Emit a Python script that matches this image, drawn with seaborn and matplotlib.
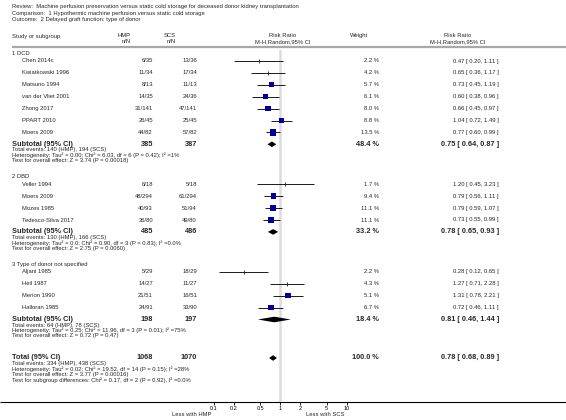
import numpy as np
import pandas as pd
import seaborn as sns
import matplotlib.pyplot as plt

title_lines = [
    "Review:  Machine perfusion preservation versus static cold storage for deceased donor kidney transplantation",
    "Comparison:  1 Hypothermic machine perfusion versus static cold storage",
    "Outcome:  2 Delayed graft function: type of donor",
]

group_labels = ["1 DCD", "2 DBD", "3 Type of donor not specified"]
study = [
    "Chen 2014c", "Kwiatkowski 1996", "Matsuno 1994", "van der Vliet 2001",
    "Zhong 2017", "PPART 2010", "Moers 2009",
    "Veller 1994", "Moers 2009", "Mozes 1985", "Tedesco-Silva 2017",
    "Aljani 1985", "Heil 1987", "Merion 1990", "Halloran 1985",
]
group_id = [0] * 7 + [1] * 4 + [2] * 4
hmp_events = [6, 11, 8, 14, 31, 26, 44, 6, 48, 40, 36, 5, 14, 21, 24]
hmp_total = [35, 34, 13, 35, 141, 45, 82, 18, 294, 93, 80, 29, 27, 51, 91]
scs_events = [13, 17, 11, 24, 47, 25, 57, 5, 61, 51, 49, 18, 11, 16, 33]
scs_total = [36, 34, 13, 36, 141, 45, 82, 18, 294, 94, 80, 29, 27, 51, 90]
weight = [2.2, 4.2, 5.7, 6.1, 8.0, 8.8, 13.5, 1.7, 9.4, 11.1, 11.1, 2.2, 4.3, 5.1, 6.7]
rr = [0.47, 0.65, 0.73, 0.60, 0.66, 1.04, 0.77, 1.20, 0.79, 0.79, 0.73, 0.28, 1.27, 1.31, 0.72]
ci_lo = [0.20, 0.36, 0.45, 0.38, 0.45, 0.72, 0.60, 0.45, 0.56, 0.59, 0.55, 0.12, 0.71, 0.78, 0.46]
ci_hi = [1.11, 1.17, 1.19, 0.96, 0.97, 1.49, 0.99, 3.23, 1.11, 1.07, 0.99, 0.65, 2.28, 2.21, 1.11]

sub_hmp = [385, 485, 198]
sub_scs = [387, 486, 197]
sub_weight = [48.4, 33.2, 18.4]
sub_rr = [0.75, 0.78, 0.81]
sub_lo = [0.64, 0.65, 0.46]
sub_hi = [0.87, 0.93, 1.44]
sub_stats = [
    ["Total events: 140 (HMP), 194 (SCS)",
     "Heterogeneity: Tau² = 0.00; Chi² = 6.03, df = 6 (P = 0.42); I² =1%",
     "Test for overall effect: Z = 3.74 (P = 0.00018)"],
    ["Total events: 130 (HMP), 166 (SCS)",
     "Heterogeneity: Tau² = 0.0; Chi² = 0.90, df = 3 (P = 0.83); I² =0.0%",
     "Test for overall effect: Z = 2.75 (P = 0.0060)"],
    ["Total events: 64 (HMP), 78 (SCS)",
     "Heterogeneity: Tau² = 0.25; Chi² = 11.96, df = 3 (P = 0.01); I² =75%",
     "Test for overall effect: Z = 0.72 (P = 0.47)"],
]

tot_hmp, tot_scs, tot_weight = 1068, 1070, 100.0
tot_rr, tot_lo, tot_hi = 0.78, 0.68, 0.89
tot_stats = [
    "Total events: 334 (HMP), 438 (SCS)",
    "Heterogeneity: Tau² = 0.02; Chi² = 19.52, df = 14 (P = 0.15); I² =28%",
    "Test for overall effect: Z = 3.77 (P = 0.00016)",
    "Test for subgroup differences: Chi² = 0.17, df = 2 (P = 0.92), I² =0.0%",
]

ticks = [0.1, 0.2, 0.5, 1, 2, 5, 10]
tick_labels = ["0.1", "0.2", "0.5", "1", "2", "5", "10"]
favours = ["Less with HMP", "Less with SCS"]

sns.set_theme(style="white")
plt.rcParams["font.family"] = ["Liberation Sans", "DejaVu Sans"]

W, H = 566, 420
fig = plt.figure(figsize=(W / 100, H / 100), dpi=100)
ax = fig.add_axes([0, 0, 1, 1])
ax.set_xlim(0, W)
ax.set_ylim(H, 0)
ax.axis("off")

# forest panel (log scale), pixel rows shared with the text axes
f_left, f_right, f_top, f_bot = 214, 346.5, 50, 402
fax = fig.add_axes([f_left / W, (H - f_bot) / H, (f_right - f_left) / W, (f_bot - f_top) / H])
fax.set_xscale("log")
fax.patch.set_alpha(0)
for s in fax.spines.values():
    s.set_visible(False)
fax.axvline(1, color="#dcdcdc", lw=1.8, zorder=0)

fs, fs_stat, fs_bold = 4.2, 4.2, 5.3
x_name, x_ind, x_hmp, x_scs, x_w, x_rr = 12, 22, 153, 197, 379, 499

# title and header
for i, t in enumerate(title_lines):
    ax.text(12, 6.5 + 6.6 * i, t, fontsize=fs, va="center")
ax.text(x_name, 36.5, "Study or subgroup", fontsize=fs, va="center")
for xr, lab in [(131, "HMP"), (176, "SCS")]:
    ax.text(xr, 35.5, lab, fontsize=fs, va="center", ha="right")
    ax.text(xr, 41.5, "n/N", fontsize=fs, va="center", ha="right")
for xc in [283, 458]:
    ax.text(xc, 35.5, "Risk Ratio", fontsize=fs, va="center", ha="center")
    ax.text(xc, 41.5, "M-H,Random,95% CI", fontsize=fs, va="center", ha="center")
ax.text(350, 35.5, "Weight", fontsize=fs, va="center")
ax.hlines(47, 12, W, color="#a8a8a8", lw=1.6)

# row positions
study_y = np.zeros(len(study))
sub_y = []
first = 61.0
for g in range(3):
    ax.text(x_name, first - 7.5, group_labels[g], fontsize=fs, va="center")
    idx = [i for i, gi in enumerate(group_id) if gi == g]
    study_y[idx] = first + 11.9 * np.arange(len(idx))
    sy = study_y[idx][-1] + 11.9
    sub_y.append(sy)
    first = sy + 40
tot_y = sub_y[-1] + 38.5

df = pd.DataFrame({"study": study, "y": study_y, "w": weight, "rr": rr,
                   "lo": ci_lo, "hi": ci_hi})

# study rows text
for i, r in df.iterrows():
    ax.text(x_ind, r.y, r.study, fontsize=fs, va="center")
    ax.text(x_hmp, r.y, f"{hmp_events[i]}/{hmp_total[i]}", fontsize=fs, va="center", ha="right")
    ax.text(x_scs, r.y, f"{scs_events[i]}/{scs_total[i]}", fontsize=fs, va="center", ha="right")
    ax.text(x_w, r.y, f"{r.w:.1f} %", fontsize=fs, va="center", ha="right")
    ax.text(x_rr, r.y, f"{r.rr:.2f} [ {r.lo:.2f}, {r.hi:.2f} ]", fontsize=fs, va="center", ha="right")

# CI lines and study markers
fax.hlines(df.y, df.lo, df.hi, color="#1a1a1a", lw=0.7, zorder=2)
big = df[df.w >= 5]
small = df[df.w < 5]
sns.scatterplot(data=big, x="rr", y="y", size="w", sizes=(14, 21), size_norm=(5, 14),
                marker="s", color="#0000a0", edgecolor="none", legend=False,
                ax=fax, zorder=3)
fax.plot(small.rr, small.y, ls="none", marker="|", ms=3.4, mew=0.6, color="#1a1a1a", zorder=3)


def diamond(est, lo, hi, yc, h=2.8):
    fax.fill([lo, est, hi, est], [yc, yc - h, yc, yc + h], color="black", lw=0, zorder=3)


def summary_row(yc, label, nh, ns, w, est, lo, hi, stats):
    ax.text(x_name, yc, label, fontsize=fs_bold, fontweight="bold", va="center")
    ax.text(x_hmp, yc, str(nh), fontsize=fs_bold, fontweight="bold", va="center", ha="right")
    ax.text(x_scs, yc, str(ns), fontsize=fs_bold, fontweight="bold", va="center", ha="right")
    ax.text(x_w, yc, f"{w:.1f} %", fontsize=fs_bold, fontweight="bold", va="center", ha="right")
    ax.text(x_rr, yc, f"{est:.2f} [ {lo:.2f}, {hi:.2f} ]", fontsize=fs_bold,
            fontweight="bold", va="center", ha="right")
    for k, s in enumerate(stats):
        ax.text(x_name, yc + 5.6 + 5.4 * k, s, fontsize=fs_stat, va="center")
    diamond(est, lo, hi, yc)


for g in range(3):
    summary_row(sub_y[g], "Subtotal (95% CI)", sub_hmp[g], sub_scs[g], sub_weight[g],
                sub_rr[g], sub_lo[g], sub_hi[g], sub_stats[g])
summary_row(tot_y, "Total (95% CI)", tot_hmp, tot_scs, tot_weight,
            tot_rr, tot_lo, tot_hi, tot_stats)

fax.set_xlabel("")
fax.set_ylabel("")
fax.set_xlim(0.1, 10)
fax.set_ylim(f_bot, f_top)
fax.set_xticks(ticks)
fax.set_xticklabels(tick_labels)
fax.minorticks_off()
fax.set_yticks([])
fax.tick_params(axis="x", bottom=True, length=2, width=0.6, pad=0.6,
                labelsize=4.0, colors="black")
fax.grid(False)

# axis line and favours labels
ax.hlines(f_bot, 0, W, color="black", lw=0.8)
ax.text(192, 414.5, favours[0], fontsize=fs, va="center", ha="center")
ax.text(325, 414.5, favours[1], fontsize=fs, va="center", ha="center")

fig.savefig("out.png", dpi=100)
